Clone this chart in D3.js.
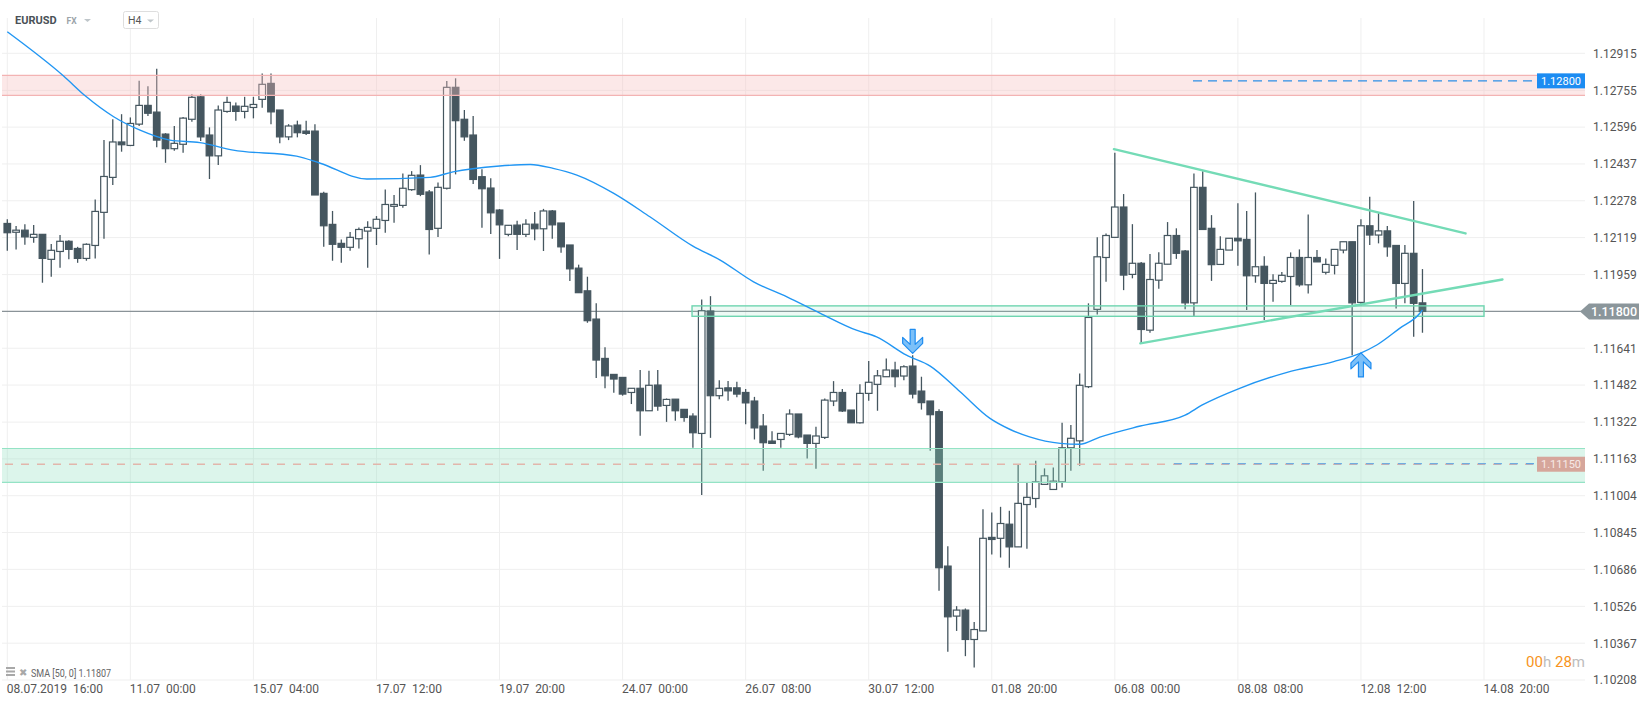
<!DOCTYPE html>
<html>
<head>
<meta charset="utf-8">
<script src="https://cdn.jsdelivr.net/npm/d3@7"></script>
<style>
body { margin: 0; background: #fff; }
svg { display: block; font-family: Roboto, "Noto Sans", sans-serif; }
</style>
</head>
<body>
<svg width="1652" height="707"></svg>
<script>
// EURUSD H4 candles, 08.07.2019 16:00 -> 13.08.2019 16:00
const open = [
  1.12180,1.12142,1.12151,1.12120,1.12133,1.12025,1.12059,1.12103,1.12072,1.12029,
  1.12085,1.12228,1.12379,1.12532,1.12517,1.12609,1.12690,1.12661,1.12566,1.12503,
  1.12522,1.12630,1.12727,1.12562,1.12472,1.12664,1.12687,1.12664,1.12681,1.12716,
  1.12785,1.12670,1.12554,1.12605,1.12579,1.12579,1.12310,1.12176,1.12094,1.12077,
  1.12114,1.12147,1.12159,1.12193,1.12254,1.12258,1.12326,1.12389,1.12316,1.12159,
  1.12332,1.12768,1.12630,1.12562,1.12382,1.12333,1.12238,1.12133,1.12173,1.12133,
  1.12177,1.12157,1.12234,1.12182,1.12087,1.11987,1.11889,1.11767,1.11597,1.11528,
  1.11515,1.11450,1.11468,1.11371,1.11482,1.11394,1.11421,1.11377,1.11348,1.11273,
  1.11802,1.11436,1.11470,1.11470,1.11450,1.11413,1.11305,1.11240,1.11247,1.11269,
  1.11357,1.11266,1.11230,1.11256,1.11413,1.11450,1.11374,1.11319,1.11446,1.11485,
  1.11518,1.11547,1.11521,1.11564,1.11456,1.11413,1.11367,1.10700,1.10484,1.10510,
  1.10383,1.10420,1.10824,1.10820,1.10881,1.10783,1.10966,1.10992,1.11053,1.11031,
  1.11064,1.11211,1.11241,1.11475,1.11809,1.12033,1.12120,1.12251,1.11960,1.12008,
  1.11719,1.11935,1.12004,1.12128,1.12061,1.11837,1.12336,1.12159,1.12003,1.12065,
  1.12116,1.12111,1.11954,1.11995,1.11921,1.11930,1.11951,1.12033,1.11915,1.12033,
  1.11969,1.11999,1.12065,1.12101,1.11839,1.12170,1.12130,1.12148,1.12085,1.11921,
  1.12051,1.11837
]
const high = [
  1.12198,1.12169,1.12177,1.12173,1.12133,1.12091,1.12130,1.12108,1.12079,1.12094,
  1.12284,1.12540,1.12630,1.12652,1.12638,1.12796,1.12773,1.12848,1.12570,1.12601,
  1.12640,1.12738,1.12738,1.12595,1.12690,1.12727,1.12703,1.12727,1.12727,1.12828,
  1.12828,1.12670,1.12609,1.12624,1.12624,1.12609,1.12317,1.12234,1.12111,1.12143,
  1.12163,1.12190,1.12212,1.12327,1.12303,1.12396,1.12406,1.12432,1.12324,1.12357,
  1.12795,1.12807,1.12670,1.12644,1.12414,1.12375,1.12242,1.12173,1.12192,1.12198,
  1.12229,1.12243,1.12238,1.12182,1.12087,1.12002,1.11950,1.11835,1.11645,1.11528,
  1.11515,1.11468,1.11547,1.11544,1.11547,1.11424,1.11421,1.11377,1.11360,1.11852,
  1.11866,1.11503,1.11499,1.11496,1.11465,1.11431,1.11357,1.11283,1.11273,1.11377,
  1.11357,1.11266,1.11302,1.11424,1.11499,1.11465,1.11374,1.11486,1.11586,1.11547,
  1.11597,1.11583,1.11568,1.11611,1.11518,1.11413,1.11377,1.10786,1.10527,1.10517,
  1.10458,1.10946,1.10932,1.10956,1.10939,1.11139,1.11060,1.11155,1.11122,1.11126,
  1.11319,1.11309,1.11532,1.11835,1.12120,1.12137,1.12485,1.12307,1.12177,1.12014,
  1.12048,1.12056,1.12186,1.12159,1.12065,1.12396,1.12406,1.12216,1.12125,1.12116,
  1.12267,1.12234,1.12314,1.12038,1.11961,1.11970,1.12055,1.12068,1.12219,1.12065,
  1.12029,1.12068,1.12101,1.12101,1.12198,1.12295,1.12224,1.12169,1.12085,1.12087,
  1.12277,1.11983
]
const low = [
  1.12062,1.12068,1.12088,1.12097,1.11924,1.11950,1.11989,1.12025,1.12010,1.12019,
  1.12029,1.12114,1.12346,1.12490,1.12514,1.12601,1.12644,1.12509,1.12442,1.12494,
  1.12485,1.12619,1.12536,1.12372,1.12432,1.12658,1.12624,1.12634,1.12634,1.12680,
  1.12609,1.12526,1.12540,1.12552,1.12562,1.12303,1.12079,1.12019,1.12010,1.12062,
  1.12072,1.11989,1.12087,1.12140,1.12183,1.12248,1.12321,1.12298,1.12046,1.12122,
  1.12327,1.12392,1.12537,1.12350,1.12161,1.12135,1.12027,1.12125,1.12065,1.12122,
  1.12108,1.12061,1.12114,1.12053,1.11932,1.11881,1.11751,1.11513,1.11468,1.11449,
  1.11436,1.11400,1.11263,1.11371,1.11371,1.11323,1.11328,1.11323,1.11211,1.11007,
  1.11254,1.11421,1.11414,1.11429,1.11313,1.11247,1.11112,1.11230,1.11211,1.11262,
  1.11252,1.11165,1.11120,1.11249,1.11391,1.11366,1.11319,1.11316,1.11414,1.11371,
  1.11518,1.11472,1.11503,1.11424,1.11376,1.11198,1.10593,1.10330,1.10420,1.10311,
  1.10262,1.10420,1.10750,1.10737,1.10693,1.10783,1.10775,1.10952,1.11053,1.11031,
  1.11040,1.11112,1.11133,1.11469,1.11787,1.11928,1.12120,1.11892,1.11943,1.11662,
  1.11708,1.11898,1.12004,1.12027,1.11809,1.11780,1.12154,1.11932,1.12003,1.12065,
  1.11997,1.11806,1.11924,1.11763,1.11842,1.11924,1.11827,1.11907,1.11878,1.12014,
  1.11960,1.11960,1.12051,1.11611,1.11823,1.12087,1.12094,1.12036,1.11813,1.11835,
  1.11691,1.11708
]
const close = [
  1.12140,1.12151,1.12122,1.12133,1.12029,1.12064,1.12103,1.12068,1.12029,1.12090,
  1.12232,1.12383,1.12532,1.12520,1.12612,1.12690,1.12656,1.12540,1.12503,1.12526,
  1.12635,1.12725,1.12554,1.12472,1.12670,1.12703,1.12664,1.12686,1.12694,1.12781,
  1.12662,1.12554,1.12601,1.12572,1.12569,1.12303,1.12170,1.12090,1.12077,1.12120,
  1.12154,1.12163,1.12198,1.12262,1.12262,1.12332,1.12388,1.12306,1.12154,1.12336,
  1.12768,1.12624,1.12554,1.12370,1.12330,1.12226,1.12174,1.12172,1.12133,1.12177,
  1.12157,1.12234,1.12174,1.12079,1.11984,1.11881,1.11760,1.11590,1.11522,1.11508,
  1.11443,1.11468,1.11371,1.11481,1.11391,1.11420,1.11371,1.11342,1.11276,1.11803,
  1.11436,1.11468,1.11457,1.11443,1.11405,1.11297,1.11233,1.11230,1.11273,1.11357,
  1.11258,1.11230,1.11262,1.11417,1.11450,1.11370,1.11319,1.11446,1.11494,1.11522,
  1.11547,1.11518,1.11561,1.11443,1.11406,1.11354,1.10693,1.10481,1.10510,1.10383,
  1.10426,1.10820,1.10815,1.10884,1.10783,1.10971,1.10997,1.11064,1.11090,1.11067,
  1.11211,1.11252,1.11481,1.11774,1.12036,1.12128,1.12251,1.11957,1.12008,1.11722,
  1.11938,1.12008,1.12128,1.12051,1.11837,1.12336,1.12154,1.12002,1.12068,1.12116,
  1.12105,1.11954,1.11993,1.11921,1.11934,1.11956,1.12033,1.11915,1.12033,1.12014,
  1.12003,1.12068,1.12101,1.11837,1.12170,1.12130,1.12148,1.12079,1.11921,1.12051,
  1.11835,1.11800
]

// SMA(50) line: candle position, value
const smaIdx = [0, 6.4, 9, 12.1, 15.1, 18.5, 21.9, 25.7, 32.9, 35.6, 40.9, 48.1, 50.7, 56, 59.5, 62.1, 64.8, 69, 73.1, 78,
  81.1, 84.9, 88.7, 92.5, 96.6, 98.9, 102.3, 105, 108.4, 111.8, 114.1, 116.3, 119.8, 122, 124.3, 128.9, 134, 135.9,
  140.2, 145.6, 150.9, 153.9, 155.8, 158.4, 160.7, 161]
const smaVal = [1.13008, 1.12817, 1.12727, 1.12641, 1.12583, 1.12540, 1.12529, 1.12497, 1.12471, 1.12440, 1.12372,
  1.12379, 1.12403, 1.12428, 1.12435, 1.12418, 1.12389, 1.12310, 1.12209, 1.12082, 1.12022, 1.11928, 1.11863,
  1.11792, 1.11719, 1.11690, 1.11611, 1.11564, 1.11453, 1.11338, 1.11290, 1.11258, 1.11230, 1.11226, 1.11257,
  1.11305, 1.11352, 1.11395, 1.11468, 1.11537, 1.11583, 1.11619, 1.11655, 1.11727, 1.11792, 1.11807]

const xTickIdx = [0, 14, 28, 42, 56, 70, 84, 98, 112, 126, 140, 154, 168]
const xTickLabels = ["08.07.2019  16:00", "11.07  00:00", "15.07  04:00", "17.07  12:00", "19.07  20:00",
  "24.07  00:00", "26.07  08:00", "30.07  12:00", "01.08  20:00", "06.08  00:00", "08.08  08:00",
  "12.08  12:00", "14.08  20:00"]
const yTicks = [1.12915, 1.12755, 1.12596, 1.12437, 1.12278, 1.12119, 1.11959, 1.11800, 1.11641,
  1.11482, 1.11322, 1.11163, 1.11004, 1.10845, 1.10686, 1.10526, 1.10367, 1.10208]

// drawings on the chart
const resistZone = [1.12733, 1.12820]
const supportZone = [1.11062, 1.11208]
const pivotZone = [1.11779, 1.11824]
const pivotZoneIdx = [77.9, 168]
const upperTrend = [[125.9, 1.12501], [165.9, 1.12137]]
const lowerTrend = [[128.9, 1.11662], [170.1, 1.11938]]
const resistLevel = 1.12796, resistLabel = "1.12800"
const supportLevel = 1.11140, supportLabel = "1.11150"
const lastPrice = 1.11800
const arrowDown = [103, 1.11619]
const arrowUp = [154, 1.11621]

const svg = d3.select("svg")
const plotLeft = 2, plotRight = 1585, plotTop = 18, plotBottom = 680

const x = d3.scaleLinear().domain([0, 168]).range([7.3, 1484])
const y = d3.scaleLinear().domain([1.10208, 1.12915]).range([680, 53.3])

const candleColor = "#45565f"

// grid
const grid = svg.append("g")
grid.selectAll(".hg").data(yTicks).enter().append("line")
  .attr("x1", plotLeft).attr("x2", plotRight)
  .attr("y1", d => y(d)).attr("y2", d => y(d))
  .attr("stroke", "#efefef").attr("stroke-width", 1)
grid.selectAll(".vg").data(xTickIdx).enter().append("line")
  .attr("x1", d => x(d)).attr("x2", d => x(d))
  .attr("y1", plotTop).attr("y2", plotBottom)
  .attr("stroke", "#efefef").attr("stroke-width", 1)

// last price line
svg.append("line")
  .attr("x1", plotLeft).attr("x2", 1590)
  .attr("y1", y(lastPrice)).attr("y2", y(lastPrice))
  .attr("stroke", "#8a9398").attr("stroke-width", 1.2)

// candles
const candles = d3.range(open.length).map(i => ({i: i, o: open[i], h: high[i], l: low[i], c: close[i]}))
const cg = svg.append("g")
cg.selectAll(".wick").data(candles).enter().append("line")
  .attr("x1", d => x(d.i)).attr("x2", d => x(d.i))
  .attr("y1", d => y(d.h)).attr("y2", d => y(d.l))
  .attr("stroke", candleColor).attr("stroke-width", 1.3)
cg.selectAll(".body").data(candles).enter().append("rect")
  .attr("x", d => x(d.i) - 3.3)
  .attr("width", 6.6)
  .attr("y", d => y(Math.max(d.o, d.c)))
  .attr("height", d => Math.max(1.5, Math.abs(y(d.o) - y(d.c))))
  .attr("fill", d => d.c >= d.o ? "#fff" : candleColor)
  .attr("stroke", candleColor).attr("stroke-width", 1.2)

// zones
function zone(p, fill, line) {
  svg.append("rect")
    .attr("x", plotLeft).attr("width", plotRight - plotLeft)
    .attr("y", y(p[1])).attr("height", y(p[0]) - y(p[1]))
    .attr("fill", fill)
  p.forEach(v => {
    svg.append("line")
      .attr("x1", plotLeft).attr("x2", plotRight)
      .attr("y1", y(v)).attr("y2", y(v))
      .attr("stroke", line).attr("stroke-width", 1.2)
  })
}
zone(resistZone, "rgba(248,190,190,0.36)", "#f3b3b3")
zone(supportZone, "rgba(140,222,190,0.3)", "#94e3c5")

svg.append("rect")
  .attr("x", x(pivotZoneIdx[0])).attr("width", x(pivotZoneIdx[1]) - x(pivotZoneIdx[0]))
  .attr("y", y(pivotZone[1])).attr("height", y(pivotZone[0]) - y(pivotZone[1]))
  .attr("fill", "rgba(140,222,190,0.15)")
  .attr("stroke", "#6fd5b0").attr("stroke-width", 1.4)

// SMA
const smaLine = d3.line().x(d => x(d[0])).y(d => y(d[1])).curve(d3.curveMonotoneX)
svg.append("path")
  .datum(smaIdx.map((d, i) => [d, smaVal[i]]))
  .attr("d", smaLine)
  .attr("fill", "none").attr("stroke", "#2196f3").attr("stroke-width", 1.4)

// trend lines
const trendLine = d3.line().x(d => x(d[0])).y(d => y(d[1]))
;[upperTrend, lowerTrend].forEach(t => {
  svg.append("path").attr("d", trendLine(t))
    .attr("stroke", "#74dbb6").attr("stroke-width", 2.4)
    .attr("stroke-linecap", "round").attr("fill", "none")
})

// dashed levels
svg.append("line")
  .attr("x1", 1193).attr("x2", 1537)
  .attr("y1", y(resistLevel)).attr("y2", y(resistLevel))
  .attr("stroke", "#2d8fe6").attr("stroke-width", 1.3).attr("stroke-dasharray", "9,6")
svg.append("line")
  .attr("x1", 5).attr("x2", 1537)
  .attr("y1", y(supportLevel)).attr("y2", y(supportLevel))
  .attr("stroke", "#e2b6ab").attr("stroke-width", 1.6).attr("stroke-dasharray", "8,8")
svg.append("line")
  .attr("x1", 1166).attr("x2", 1537)
  .attr("y1", y(supportLevel) - 0.5).attr("y2", y(supportLevel) - 0.5)
  .attr("stroke", "#4d9fe6").attr("stroke-width", 1.2).attr("stroke-dasharray", "8,8")
  .attr("stroke-dashoffset", 8)

// level labels
function levelLabel(v, text, fill, color) {
  svg.append("rect")
    .attr("x", 1537).attr("width", 48)
    .attr("y", y(v) - 7.5).attr("height", 15)
    .attr("fill", fill)
  svg.append("text")
    .attr("x", 1561).attr("y", y(v) + 4)
    .attr("text-anchor", "middle").attr("font-size", "11px")
    .attr("fill", color).text(text)
}
levelLabel(resistLevel, resistLabel, "#1c8cf2", "#fff")
levelLabel(supportLevel, supportLabel, "#d6a69b", "#f6e9e6")

// arrows
function arrow(cx, ty, dir) {
  const pts = [[-2.5, -24], [2.5, -24], [2.5, -9], [10, -16], [10, -10], [0, 0], [-10, -10], [-10, -16], [-2.5, -9]]
  svg.append("polygon")
    .attr("points", pts.map(p => [cx + p[0], ty + dir * p[1]].join(",")).join(" "))
    .attr("fill", "#7cc0f8").attr("stroke", "#1e8cf0").attr("stroke-width", 1.2)
    .attr("stroke-linejoin", "round")
}
arrow(x(arrowDown[0]), y(arrowDown[1]), 1)
arrow(x(arrowUp[0]), y(arrowUp[1]), -1)

// y axis
const yAxis = d3.axisRight(y).tickValues(yTicks).tickSize(0).tickPadding(0).tickFormat(d3.format(".5f"))
svg.append("g")
  .attr("transform", "translate(1593,0)")
  .call(yAxis)
  .call(g => g.select(".domain").remove())
  .selectAll("text")
    .attr("font-size", "12px")
    .attr("font-family", "Roboto, sans-serif")
    .attr("fill", "#555")

// last price label
const lp = y(lastPrice)
svg.append("polygon")
  .attr("points", [[1580, lp], [1589, lp - 8], [1639, lp - 8], [1639, lp + 8], [1589, lp + 8]].map(p => p.join(",")).join(" "))
  .attr("fill", "#8b969b")
svg.append("text")
  .attr("x", 1614).attr("y", lp + 4.5)
  .attr("text-anchor", "middle").attr("font-size", "12.5px").attr("font-weight", "500")
  .attr("fill", "#fff").text(d3.format(".5f")(lastPrice))

// x axis
const xAxis = d3.axisBottom(x).tickValues(xTickIdx).tickSize(0).tickPadding(0)
  .tickFormat((d, i) => xTickLabels[i])
svg.append("g")
  .attr("transform", "translate(0,684)")
  .call(xAxis)
  .call(g => g.select(".domain").remove())
  .selectAll("text")
    .attr("text-anchor", "start")
    .attr("dy", "0.71em")
    .attr("x", -1)
    .attr("font-size", "12px")
    .attr("font-family", "Roboto, sans-serif")
    .attr("fill", "#555")
    .style("white-space", "pre")

// header
svg.append("text").attr("x", 15).attr("y", 24)
  .attr("font-size", "11px").attr("font-weight", "bold").attr("fill", "#4a5157").text("EURUSD")
svg.append("text").attr("x", 66.5).attr("y", 23.5)
  .attr("font-size", "8.5px").attr("font-weight", "bold").attr("fill", "#9ba4a9").text("FX")
svg.append("polygon").attr("points", "84,19 91,19 87.5,22").attr("fill", "#bfc6ca")
svg.append("rect").attr("x", 123.5).attr("y", 11.5).attr("width", 35).attr("height", 17).attr("rx", 2)
  .attr("fill", "#fff").attr("stroke", "#dedede")
svg.append("text").attr("x", 128).attr("y", 24)
  .attr("font-size", "10.5px").attr("fill", "#555").text("H4")
svg.append("polygon").attr("points", "147,19.5 154,19.5 150.5,22.5").attr("fill", "#bfc6ca")

// SMA legend
svg.append("rect").attr("x", 6).attr("y", 667).attr("width", 9).attr("height", 2).attr("fill", "#a8a8a8")
svg.append("rect").attr("x", 6).attr("y", 670.5).attr("width", 9).attr("height", 2).attr("fill", "#a8a8a8")
svg.append("rect").attr("x", 6).attr("y", 674).attr("width", 9).attr("height", 2).attr("fill", "#a8a8a8")
svg.append("text").attr("x", 19).attr("y", 676).attr("font-size", "10px").attr("fill", "#a8a8a8").text("✖")
svg.append("text").attr("x", 31).attr("y", 677)
  .attr("font-size", "10px").attr("fill", "#666")
  .attr("transform", "translate(31,0) scale(0.9,1) translate(-31,0)")
  .text("SMA [50, 0] " + d3.format(".5f")(smaVal[smaVal.length - 1]))

// countdown
const cd = svg.append("text").attr("x", 1585).attr("y", 667).attr("text-anchor", "end").attr("font-size", "15px")
cd.append("tspan").attr("fill", "#f7941d").text("00")
cd.append("tspan").attr("fill", "#bdbdbd").text("h ")
cd.append("tspan").attr("fill", "#f7941d").text("28")
cd.append("tspan").attr("fill", "#bdbdbd").text("m")
</script>
</body>
</html>
